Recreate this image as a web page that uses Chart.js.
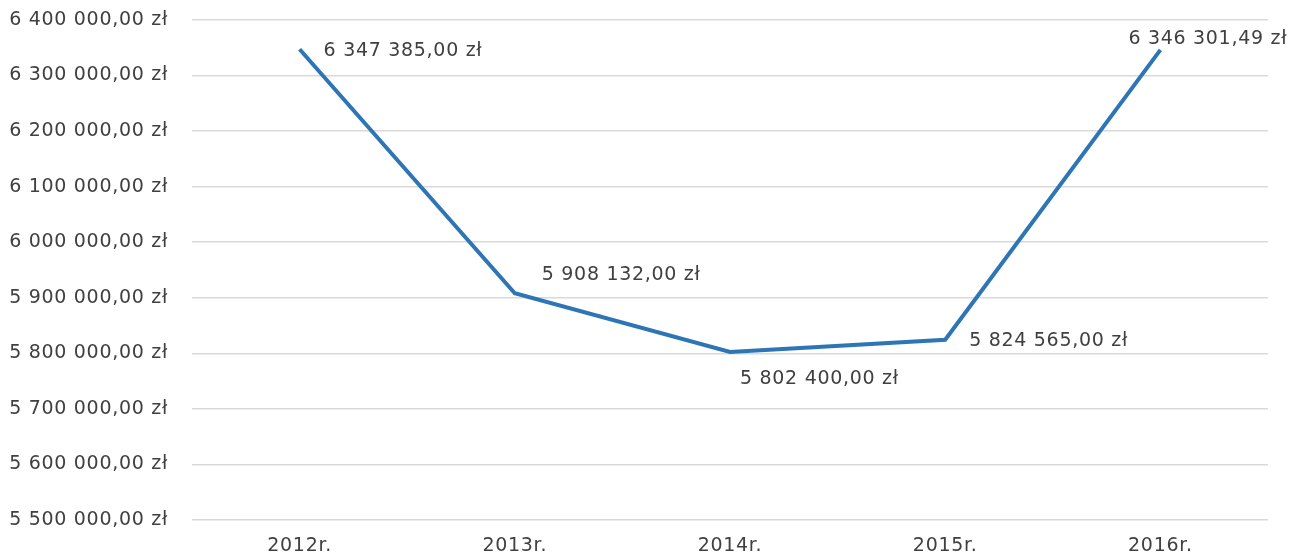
<!DOCTYPE html>
<html><head><meta charset="utf-8">
<script src="https://cdn.jsdelivr.net/npm/chart.js@4"></script>
<style>html,body{margin:0;padding:0;background:#fff}#wrap{width:1297px;height:554px}</style>
</head><body><div id="wrap"><canvas id="c" width="1297" height="554"></canvas></div>
<script>
const categories = ["2012r.", "2013r.", "2014r.", "2015r.", "2016r."];
const values = [6347385.00, 5908132.00, 5802400.00, 5824565.00, 6346301.49];
const yMin = 5500000, yMax = 6400000, yStep = 100000;

function fmt(v){
  const neg = v < 0; v = Math.abs(v);
  const parts = v.toFixed(2).split('.');
  const int = parts[0].replace(/\B(?=(\d{3})+(?!\d))/g, ' ');
  return (neg?'-':'') + int + ',' + parts[1] + ' zł';
}

const FONT = '"DejaVu Sans", sans-serif';
const FSIZE = 19;
const SPACING = '0.7px';
const labelOffsets = [[24, 2], [27, -18], [10, 27], [24, 1], [-32, -11]];

const spacingPlugin = {
  id: 'spacing',
  beforeDraw(chart){ chart.ctx.letterSpacing = SPACING; }
};

const labelPlugin = {
  id: 'pointLabels',
  afterDatasetsDraw(chart){
    const ctx = chart.ctx;
    const meta = chart.getDatasetMeta(0);
    ctx.save();
    ctx.letterSpacing = SPACING;
    ctx.font = FSIZE + 'px ' + FONT;
    ctx.fillStyle = '#404040';
    ctx.textAlign = 'left';
    ctx.textBaseline = 'middle';
    meta.data.forEach((pt, i) => {
      const o = labelOffsets[i];
      ctx.fillText(fmt(values[i]), pt.x + o[0], pt.y + o[1]);
    });
    ctx.restore();
  }
};

new Chart(document.getElementById('c'), {
  type: 'line',
  data: {
    labels: categories,
    datasets: [{
      data: values,
      borderColor: '#2E75B6',
      borderWidth: 4,
      pointRadius: 0,
      tension: 0,
      fill: false
    }]
  },
  options: {
    responsive: false,
    animation: false,
    layout: { padding: { top: 20, right: 29, left: 0, bottom: 0 } },
    plugins: { legend: { display: false }, tooltip: { enabled: false } },
    scales: {
      x: {
        offset: true,
        grid: { display: false, drawTicks: false },
        border: { display: false },
        ticks: { color: '#404040', font: { family: FONT, size: FSIZE }, padding: 15 },
        afterFit(s){ s.height = 34; s.paddingLeft = 0; s.paddingRight = 0; }
      },
      y: {
        min: yMin, max: yMax,
        ticks: { stepSize: yStep, color: '#404040', font: { family: FONT, size: FSIZE }, padding: 24, callback: v => fmt(v) },
        grid: { color: '#d9d9d9', lineWidth: 1.5, drawTicks: false },
        border: { display: false },
        afterFit(s){ s.width = 192; s.paddingTop = 0; s.paddingBottom = 0; }
      }
    }
  },
  plugins: [spacingPlugin, labelPlugin]
});
</script></body></html>
